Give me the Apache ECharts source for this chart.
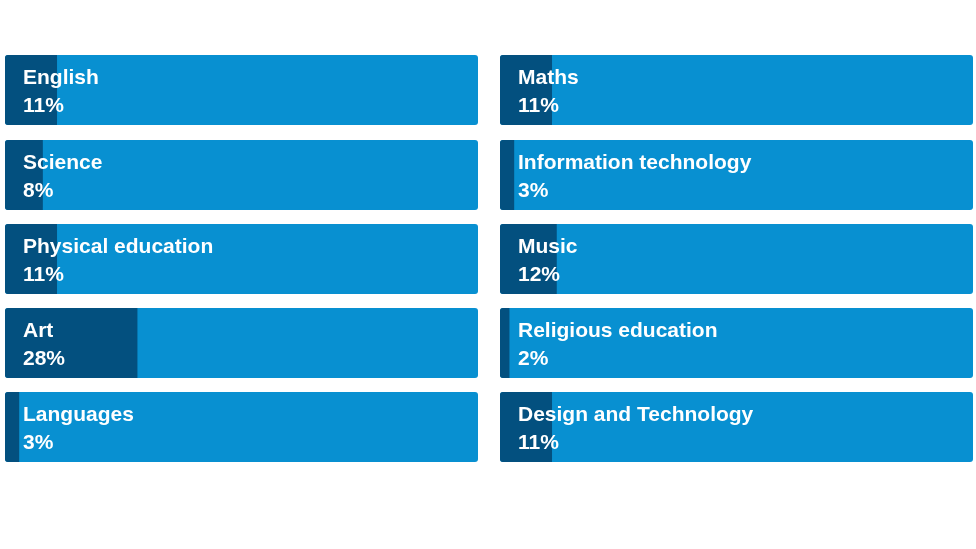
<!DOCTYPE html>
<html>
<head>
<meta charset="utf-8">
<script src="https://cdn.jsdelivr.net/npm/echarts@6/dist/echarts.min.js"></script>
<style>
  html, body { margin: 0; padding: 0; background: #fff; }
  #chart { width: 976px; height: 549px; }
</style>
</head>
<body>
<div id="chart"></div>
<script>
// subjects, left column then right column
const subjects = [
  "English", "Science", "Physical education", "Art", "Languages",
  "Maths", "Information technology", "Music", "Religious education", "Design and Technology"
];
const percents = [11, 8, 11, 28, 3, 11, 3, 12, 2, 11];

const chart = echarts.init(document.getElementById("chart"));

const colLeft = [5, 500];
const rowTop = [55, 140, 224, 308, 392];
const panelW = 473;
const panelH = 70;

const grids = [], xAxes = [], yAxes = [], series = [];
subjects.forEach((name, i) => {
  const col = Math.floor(i / 5);
  const row = i % 5;
  grids.push({ left: colLeft[col], top: rowTop[row], width: panelW, height: panelH });
  xAxes.push({ gridIndex: i, type: "value", min: 0, max: 100, show: false });
  yAxes.push({ gridIndex: i, type: "category", data: [name], show: false });
  series.push({
    type: "bar",
    xAxisIndex: i,
    yAxisIndex: i,
    barWidth: "100%",
    data: [percents[i]],
    silent: true,
    showBackground: true,
    backgroundStyle: { color: "#0890d1", borderRadius: 3 },
    itemStyle: { color: "#03507f", borderRadius: [3, 0, 0, 3] },
    label: {
      show: true,
      position: "insideLeft",
      distance: 18,
      offset: [0, 2],
      formatter: p => "{t|" + name + "}\n{v|" + p.value + "%}",
      rich: {
        t: { fontFamily: "Liberation Sans", fontWeight: "bold", fontSize: 21, color: "#fff", lineHeight: 28 },
        v: { fontFamily: "Liberation Sans", fontWeight: "bold", fontSize: 21, color: "#fff", lineHeight: 28 }
      }
    }
  });
});

chart.setOption({
  animation: false,
  grid: grids,
  xAxis: xAxes,
  yAxis: yAxes,
  series: series
});
</script>
</body>
</html>
